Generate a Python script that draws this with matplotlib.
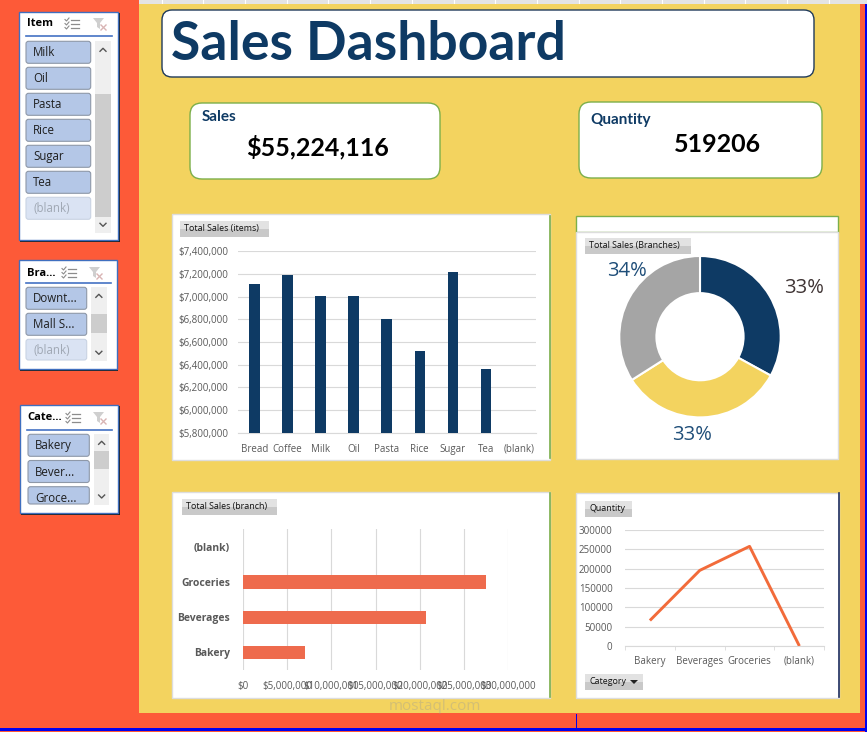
import matplotlib.pyplot as plt
import numpy as np
from matplotlib.patches import FancyBboxPatch, Rectangle, Polygon
from matplotlib.ticker import FuncFormatter, MultipleLocator

# ---- data ----
items = ['Bread', 'Coffee', 'Milk', 'Oil', 'Pasta', 'Rice', 'Sugar', 'Tea', '(blank)']
item_sales = [7112000, 7191000, 7006000, 7004000, 6803000, 6522000, 7218000, 6363000, np.nan]

branch_share = [33.0, 33.0, 34.0]
branch_labels = ['33%', '33%', '34%']

categories = ['Bakery', 'Beverages', 'Groceries', '(blank)']
category_sales = [7070000, 20650000, 27500000, np.nan]
category_qty = [66000, 195500, 257700, 0]

total_sales = '$55,224,116'
total_qty = '519206'

item_slicer = ['Milk', 'Oil', 'Pasta', 'Rice', 'Sugar', 'Tea', '(blank)']
branch_slicer = ['Downt...', 'Mall S...', '(blank)']
category_slicer = ['Bakery', 'Bever...', 'Groce...']

# ---- style ----
W, H = 867, 732
ORANGE = '#FD5A38'
YELLOW = '#F3D35F'
NAVY = '#0E3A64'
TXT = '#595959'
GRID = '#D9D9D9'
BAR_ORANGE = '#EE6B4D'
LINE_ORANGE = '#F26B3A'
DONUT = [NAVY, YELLOW, '#A5A5A5']
UI = 'Open Sans'
CAL = 'Lato'

fig = plt.figure(figsize=(W / 100, H / 100), dpi=100, facecolor=ORANGE)
bg = fig.add_axes([0, 0, 1, 1])
bg.set_xlim(0, W)
bg.set_ylim(H, 0)
bg.axis('off')


def px_axes(x0, y0, x1, y1):
    ax = fig.add_axes([x0 / W, 1 - y1 / H, (x1 - x0) / W, (y1 - y0) / H])
    ax.set_facecolor('none')
    return ax


def box(x0, y0, x1, y1, fc='white', ec='none', lw=1.0, r=0, z=1):
    if r:
        p = FancyBboxPatch((x0, y0), x1 - x0, y1 - y0,
                           boxstyle=f'round,pad=0,rounding_size={r}',
                           fc=fc, ec=ec, lw=lw, zorder=z)
    else:
        p = Rectangle((x0, y0), x1 - x0, y1 - y0, fc=fc, ec=ec, lw=lw, zorder=z)
    bg.add_patch(p)
    return p


def field_button(x0, y0, x1, y1, label, arrow=False):
    box(x0, y0, x1, (y0 + y1) / 2, fc='#E2E2E2', z=4)
    box(x0, (y0 + y1) / 2, x1, y1, fc='#C9C9C9', z=4)
    bg.text(x0 + 4, (y0 + y1) / 2, label, fontsize=6.4, family=UI, va='center', color='#111111', zorder=5)
    if arrow:
        bg.add_patch(Polygon([(x1 - 13, y0 + 6), (x1 - 5, y0 + 6), (x1 - 9, y0 + 10)],
                             fc='#222222', ec='none', zorder=5))


def slicer(frame, header, hy, uy, labels, bx, by, step, bh, sb, thumb, icons):
    x0, y0, x1, y1 = frame
    box(x0 + 1.5, y0 + 1.5, x1 + 1.5, y1 + 1.5, fc='#202020', z=2)
    box(x0, y0, x1, y1, fc='white', ec='#3F6FBF', lw=1, z=3)
    bg.text(x0 + 8, hy, header, fontsize=8, fontweight='bold', family=UI, va='center', zorder=5)
    bg.plot([x0 + 7, x1 - 6], [uy, uy], color='#4472C4', lw=1.2, zorder=5)
    # multi-select icon
    ix = icons[0]
    for dy in [-4, 0, 4]:
        bg.plot([ix + 6, ix + 14], [hy + dy, hy + dy], color='#8C8C8C', lw=0.9, zorder=5)
        bg.plot([ix, ix + 1.5, ix + 4], [hy + dy - 0.5, hy + dy + 1, hy + dy - 2], color='#8C8C8C', lw=0.8, zorder=5)
    # clear-filter icon
    fx = icons[1]
    bg.add_patch(Polygon([(fx, hy - 6), (fx + 11, hy - 6), (fx + 7, hy - 1), (fx + 7, hy + 5), (fx + 4, hy + 3), (fx + 4, hy - 1)],
                         fc='#CFCFCF', ec='none', zorder=5))
    bg.plot([fx + 8, fx + 13], [hy + 1, hy + 6], color='#D8B4B4', lw=1, zorder=5)
    bg.plot([fx + 8, fx + 13], [hy + 6, hy + 1], color='#D8B4B4', lw=1, zorder=5)
    # item buttons
    for i, lab in enumerate(labels):
        top = by + i * step
        bot = min(top + bh, y1 - 9)
        blank = lab == '(blank)'
        box(bx[0], top, bx[1], bot, fc='#DAE3F3' if blank else '#B4C7E7',
            ec='#C9D3E3' if blank else '#8E98A8', lw=0.8, r=2.5, z=4)
        bg.text(bx[0] + 7, top + bh / 2 + 0.5, lab, fontsize=8.3, family=UI, va='center',
                color='#A0A8B4' if blank else '#1F1F1F', zorder=5)
    # scroll bar
    box(sb[0], sb[1], sb[2], sb[3], fc='#EFEFEF', z=4)
    box(sb[0], thumb[0], sb[2], thumb[1], fc='#CDCDCD', z=4)
    cx = (sb[0] + sb[2]) / 2
    bg.plot([cx - 3, cx, cx + 3], [sb[1] + 10, sb[1] + 7, sb[1] + 10], color='#555555', lw=1, zorder=6)
    bg.plot([cx - 3, cx, cx + 3], [sb[3] - 10, sb[3] - 7, sb[3] - 10], color='#555555', lw=1, zorder=6)


# ---- sheet background ----
box(139, 0, 867, 3.5, fc='#E4E4E4', z=0)
for gx in np.arange(161.7, 867, 41.7):
    bg.plot([gx, gx], [0, 3.5], color='white', lw=0.8, zorder=0)
box(139, 3.5, 860, 713, fc=YELLOW, z=0)
box(865, 4, 867, 732, fc='#0000EE', z=0)
box(0, 727.5, 867, 730.5, fc='#0000EE', z=0)
box(575.5, 714, 577, 727.5, fc='#0000EE', z=0)

# ---- title & KPI cards ----
box(162, 10, 814, 77, ec='#1F3A5A', lw=1, r=10, z=1)
bg.text(171, 45, 'Sales Dashboard', fontsize=38.5, fontweight='bold', family=CAL, color=NAVY, va='center', zorder=2)

box(190, 103, 440, 179, ec='#7CAF4A', lw=1, r=12, z=1)
bg.text(202, 117, 'Sales', fontsize=11, fontweight='bold', family=CAL, color=NAVY, va='center', zorder=2)
bg.text(318, 147, total_sales, fontsize=18, fontweight='bold', family=CAL, color='black', va='center', ha='center', zorder=2)

box(579, 102, 822, 178, ec='#7CAF4A', lw=1, r=12, z=1)
bg.text(590, 120, 'Quantity', fontsize=11, fontweight='bold', family=CAL, color=NAVY, va='center', zorder=2)
bg.text(717, 144, total_qty, fontsize=18, fontweight='bold', family=CAL, color='black', va='center', ha='center', zorder=2)

# ---- chart panels ----
box(172, 214, 550, 460, ec='#DDDDDD', lw=1, z=1)
bg.plot([550, 550], [216, 458], color='#7CAF4A', lw=1.2, zorder=2)
field_button(180, 221, 269, 236.5, 'Total Sales (items)')

box(575.5, 216, 838, 231.7, ec='#7CAF4A', lw=1, z=1)
box(575.5, 231.7, 838, 459, ec='#DDDDDD', lw=1, z=1)
field_button(585, 238, 691, 253.5, 'Total Sales (Branches)')

box(172, 492, 550, 698, ec='#DDDDDD', lw=1, z=1)
bg.plot([550, 550], [493, 697], color='#7CAF4A', lw=1.2, zorder=2)
field_button(182, 499, 277, 515, 'Total Sales (branch)')

box(575.5, 493, 838.5, 698, ec='#DDDDDD', lw=1, z=1)
bg.plot([839, 839], [493, 697], color='#1F2F5F', lw=1.2, zorder=2)
field_button(585, 501, 632, 516.5, 'Quantity')
field_button(585, 674, 643, 689.5, 'Category', arrow=True)

# ---- slicers ----
slicer((18.5, 11.7, 118, 240), 'Item', 24, 36, item_slicer, (26, 90.7), 41.3, 26, 22,
       (95, 41.3, 111, 233.3), (94.3, 216.7), (65, 93))
slicer((18.5, 260, 116.5, 369), 'Bra...', 273, 283.3, branch_slicer, (26, 86.7), 287.3, 26, 22,
       (91, 287.3, 106.7, 361.3), (314, 333), (62, 89))
slicer((19.5, 404.5, 118, 513), 'Cate...', 418, 430, category_slicer, (28, 89.3), 434.3, 26.2, 22,
       (94, 434.3, 109.3, 505), (451, 469), (66, 93))

# ---- column chart: total sales by item ----
ax1 = px_axes(237.7, 251.3, 535.7, 432.7)
x = np.arange(len(items))
ax1.bar(x, item_sales, width=0.32, color=NAVY, zorder=3)
ax1.set_xlim(-0.5, len(items) - 0.5)
ax1.set_ylim(5800000, 7400000)
ax1.yaxis.set_major_locator(MultipleLocator(200000))
ax1.yaxis.set_major_formatter(FuncFormatter(lambda v, p: f'${v:,.0f}'))
ax1.set_xticks(x, items)
ax1.grid(axis='y', color=GRID, lw=0.8, zorder=0)
for s in ['top', 'right', 'left']:
    ax1.spines[s].set_visible(False)
ax1.spines['bottom'].set_color(GRID)
ax1.tick_params(length=0, labelsize=7, labelcolor=TXT)
ax1.tick_params(axis='y', pad=7)
ax1.tick_params(axis='x', pad=8)
for t in ax1.get_xticklabels() + ax1.get_yticklabels():
    t.set_family(UI)

# ---- donut: total sales by branch ----
ax2 = px_axes(619.3, 256, 780.7, 417.4)
ax2.pie(branch_share, colors=DONUT, startangle=90, counterclock=False, radius=1,
        wedgeprops=dict(width=0.46, edgecolor='white', linewidth=1.5))
ax2.set_xlim(-1, 1)
ax2.set_ylim(-1, 1)
label_pos = [(1.29, 0.60), (-0.1, -1.22), (-0.91, 0.81)]
label_col = ['#3F3434', '#1F4E79', '#1F4E79']
for lab, (lx, ly), c in zip(branch_labels, label_pos, label_col):
    ax2.text(lx, ly, lab, fontsize=14.5, family=UI, color=c, ha='center', va='center')

# ---- bar chart: total sales by category ----
ax3 = px_axes(242.7, 529.3, 508.3, 670)
y = np.arange(len(categories))
ax3.barh(y, category_sales, height=0.38, color=BAR_ORANGE, zorder=3)
ax3.set_ylim(-0.5, len(categories) - 0.5)
ax3.set_xlim(0, 30000000)
ax3.xaxis.set_major_locator(MultipleLocator(5000000))
ax3.xaxis.set_major_formatter(FuncFormatter(lambda v, p: f'${v:,.0f}'))
ax3.set_yticks(y, categories)
ax3.grid(axis='x', color=GRID, lw=0.8, zorder=0)
for s in ax3.spines.values():
    s.set_visible(False)
ax3.tick_params(length=0, labelsize=7, labelcolor=TXT)
ax3.tick_params(axis='y', pad=9, labelsize=7.5)
ax3.tick_params(axis='x', pad=8)
for t in ax3.get_xticklabels():
    t.set_family(UI)
for t in ax3.get_yticklabels():
    t.set_family(UI)
    t.set_fontweight('bold')

# ---- line chart: quantity by category ----
ax4 = px_axes(625, 530, 824.3, 646)
xc = np.arange(len(categories))
ax4.plot(xc, category_qty, color=LINE_ORANGE, lw=2.1, solid_capstyle='butt', zorder=3)
ax4.set_xlim(-0.5, len(categories) - 0.5)
ax4.set_ylim(0, 300000)
ax4.yaxis.set_major_locator(MultipleLocator(50000))
ax4.set_xticks(xc, categories)
ax4.set_xticks(np.arange(-0.5, len(categories)), minor=True)
ax4.grid(axis='y', color=GRID, lw=0.8, zorder=0)
for s in ['top', 'right', 'left']:
    ax4.spines[s].set_visible(False)
ax4.spines['bottom'].set_color(GRID)
ax4.tick_params(length=0, labelsize=7, labelcolor=TXT)
ax4.tick_params(axis='x', which='minor', length=3, color=GRID, direction='out')
ax4.tick_params(axis='y', pad=9)
ax4.tick_params(axis='x', pad=7)
for t in ax4.get_xticklabels() + ax4.get_yticklabels():
    t.set_family(UI)

# faint watermark
bg.text(435, 706, 'mostaql.com', fontsize=11, family=UI, color='#9A9A9A', alpha=0.35,
        ha='center', va='center', zorder=8)

fig.savefig('out.png', dpi=100, facecolor=fig.get_facecolor())
